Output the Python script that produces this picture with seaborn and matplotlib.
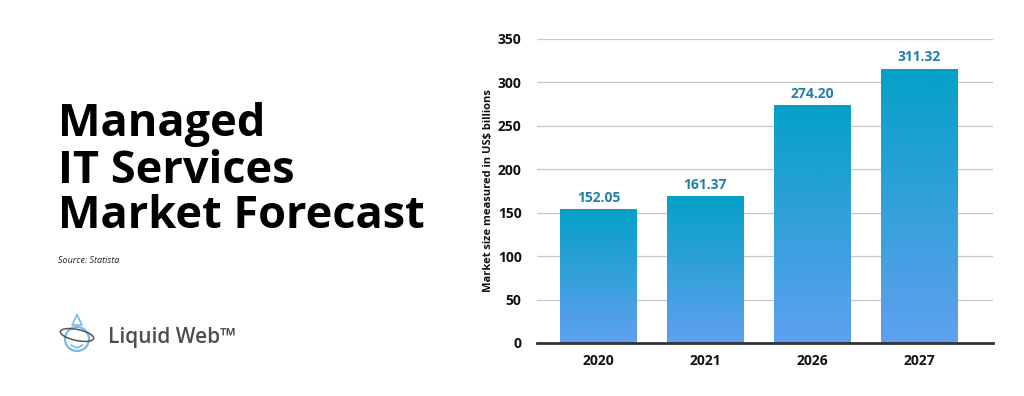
import numpy as np
import pandas as pd
import seaborn as sns
import matplotlib.pyplot as plt
from matplotlib.patches import Ellipse, Circle

# Dados
years = ['2020', '2021', '2026', '2027']
bar_heights = [154, 169, 274, 316]
value_labels = ['152.05', '161.37', '274.20', '311.32']
y_ticks = [0, 50, 100, 150, 200, 250, 300, 350]

df = pd.DataFrame({'year': years, 'size': bar_heights})

sns.set_theme(style='white')
plt.rcParams['font.family'] = ['Open Sans', 'DejaVu Sans']

fig = plt.figure(figsize=(10.24, 3.96), dpi=100)
ax = fig.add_axes([537 / 1024, 1 - 343 / 396, 456 / 1024, 304 / 396])

sns.barplot(data=df, x='year', y='size', width=0.72, color='#0aa0cc', ax=ax)

# Degradê em cada barra
grad = np.linspace(0, 1, 256).reshape(-1, 1)
cmap = sns.blend_palette(['#60a0ef', '#05a0c8'], as_cmap=True)
for p in ax.patches:
    x0, y0 = p.get_x(), p.get_y()
    w, h = p.get_width(), p.get_height()
    im = ax.imshow(grad, extent=[x0, x0 + w, y0, y0 + h], origin='lower',
                   cmap=cmap, aspect='auto', zorder=p.get_zorder() + 0.1)
    im.set_clip_path(p)
    p.set_facecolor('none')
    p.set_edgecolor('none')

for i, lab in enumerate(value_labels):
    ax.text(i, bar_heights[i] + 5, lab, ha='center', va='bottom',
            fontsize=10, fontweight='bold', color='#1f80a8')

ax.set_xlim(-0.575, 3.69)
ax.set_ylim(0, 350)
ax.set_yticks(y_ticks)
ax.yaxis.grid(True, color='#c8c8c8', linewidth=0.9)
ax.set_axisbelow(True)
for s in ['top', 'right', 'left']:
    ax.spines[s].set_visible(False)
ax.spines['bottom'].set_color('#333333')
ax.spines['bottom'].set_linewidth(2)
ax.tick_params(axis='both', length=0, labelsize=10, colors='#111111')
ax.tick_params(axis='y', pad=11)
ax.tick_params(axis='x', pad=8)
for t in ax.get_xticklabels() + ax.get_yticklabels():
    t.set_fontweight('bold')
ax.set_xlabel('')
ax.set_ylabel('Market size measured in US$ billions', fontsize=8,
              fontweight='bold', color='#111111', labelpad=3)

# Título à esquerda
fig.text(58 / 1024, 1 - 136 / 396, 'Managed', fontsize=32.5, fontweight='bold',
         color='black', va='baseline')
fig.text(58 / 1024, 1 - 183 / 396, 'IT Services', fontsize=32.5, fontweight='bold',
         color='black', va='baseline')
fig.text(58 / 1024, 1 - 228 / 396, 'Market Forecast', fontsize=32.5,
         fontweight='bold', color='black', va='baseline')
fig.text(58 / 1024, 1 - 263 / 396, 'Source: Statista', fontsize=6.5,
         style='italic', color='#222222', va='baseline')

# Logo simples
lax = fig.add_axes([55 / 1024, 1 - 355 / 396, 44 / 1024, 44 / 396])
lax.set_xlim(0, 44)
lax.set_ylim(0, 44)
lax.set_aspect('equal')
lax.axis('off')
lax.add_patch(Circle((22, 16), 12, fill=False, color='#7ab8e8', lw=1.6))
lax.add_patch(Ellipse((22, 20), 34, 11, angle=-12, fill=False, color='#555555', lw=1.1))
lax.plot([22, 17, 27, 22], [40, 30, 30, 40], color='#7ab8e8', lw=1.2)
lax.plot([16, 22, 28], [10, 7, 10], color='#7ab8e8', lw=1.2)
fig.text(108 / 1024, 1 - 343 / 396, 'Liquid Web\u2122', fontsize=15,
         fontweight='semibold', color='#4d4d4d', va='baseline')

fig.savefig('out.png', dpi=100)
